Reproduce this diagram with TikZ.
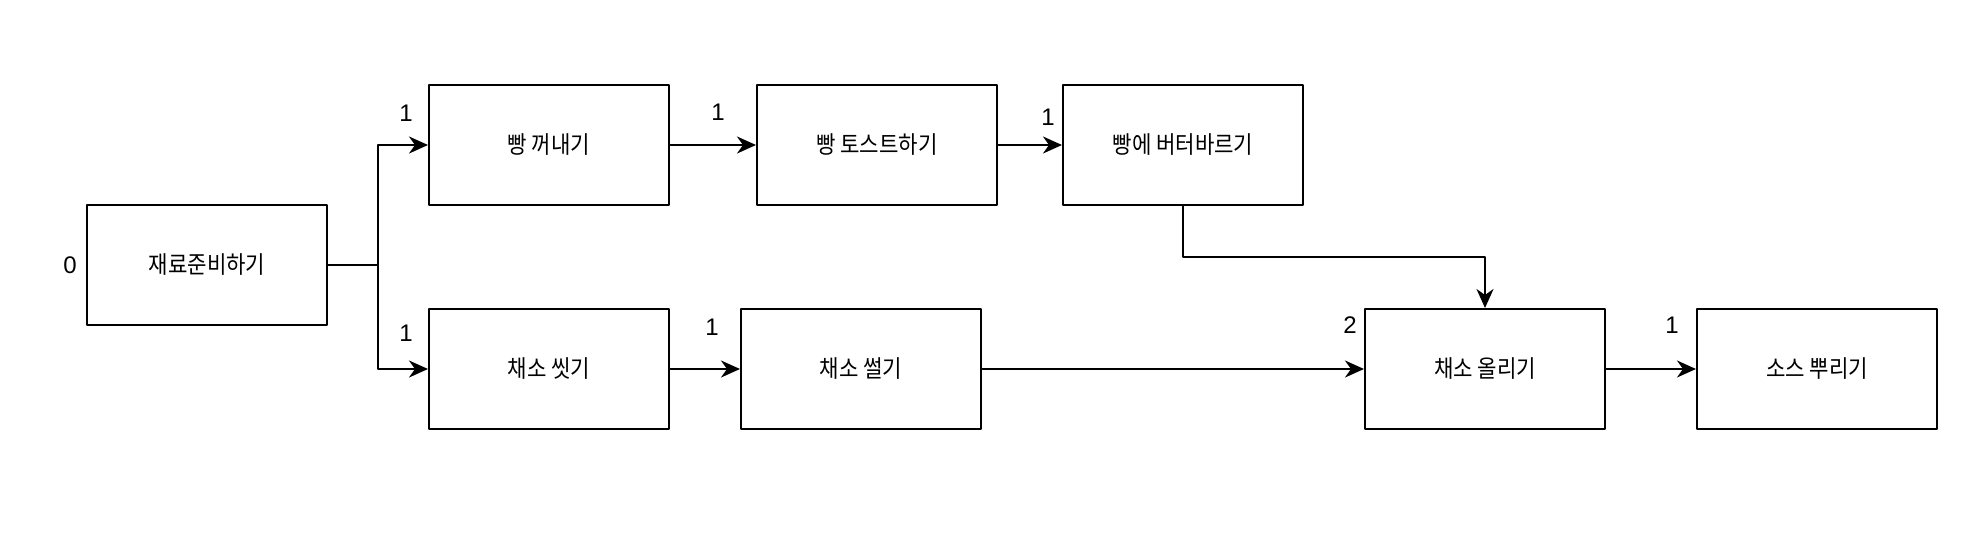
\documentclass[tikz,border=0pt]{standalone}
\usepackage{fontspec}
\setmainfont{Liberation Sans}
\newfontfamily\kr[FakeStretch=0.88]{Noto Sans CJK KR}
\usetikzlibrary{arrows.meta}
\begin{document}
\begin{tikzpicture}[x=1pt,y=-1pt,font=\fontsize{12}{14}\selectfont,line join=round,
	>={Stealth[length=9.5pt,width=8.5pt,inset=3pt]},
	task/.style={draw,line width=1pt,minimum width=120pt,minimum height=60pt,inner sep=0pt,font=\fontsize{12}{14}\selectfont\kr},
	flow/.style={->,line width=1pt}]
	\useasboundingbox (0,0) rectangle (991,268);
	% tasks
	\node[task] (prep)   at (103.5,132.5) {재료준비하기};
	\node[task] (take)   at (274.5,72.5)  {빵 꺼내기};
	\node[task] (toast)  at (438.5,72.5)  {빵 토스트하기};
	\node[task] (butter) at (591.5,72.5)  {빵에 버터바르기};
	\node[task] (wash)   at (274.5,184.5) {채소 씻기};
	\node[task] (cut)    at (430.5,184.5) {채소 썰기};
	\node[task] (put)    at (742.5,184.5) {채소 올리기};
	\node[task] (sauce)  at (908.5,184.5) {소스 뿌리기};
	% counts
	\node (c0) at (35,132.5)  {0};
	\node (c1) at (203,56.5)  {1};
	\node (c2) at (359,56)    {1};
	\node (c3) at (524,58.5)  {1};
	\node (c4) at (203,166.5) {1};
	\node (c5) at (356,163.5) {1};
	\node (c6) at (675,162.5) {2};
	\node (c7) at (836,162.5) {1};
	% edges
	\coordinate (split) at (189,132.5);
	\coordinate (elbow) at (591.5,128.5);
	\draw[line width=1pt] (prep.east)--(split);
	\draw[flow] (split) |- (take.west);
	\draw[flow] (split) |- (wash.west);
	\draw[flow] (take)--(toast);
	\draw[flow] (toast)--(butter);
	\draw[flow] (wash)--(cut);
	\draw[flow] (cut)--(put);
	\draw[flow] (butter.south)--(elbow) -| (put.north);
	\draw[flow] (put)--(sauce);
\end{tikzpicture}
\end{document}
